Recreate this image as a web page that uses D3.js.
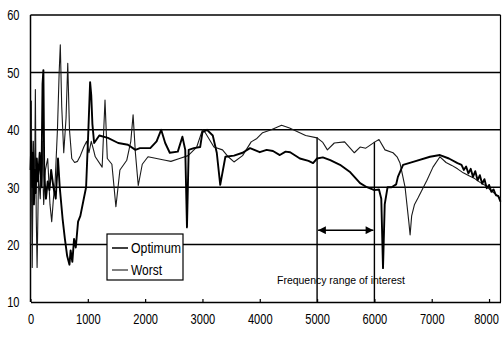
<!DOCTYPE html>
<html>
<head>
<meta charset="utf-8">
<script src="https://cdn.jsdelivr.net/npm/d3@7/dist/d3.min.js"></script>
<style>
  body { margin: 0; background: #fff; }
  svg { display: block; }
  text { font-family: "Liberation Sans", sans-serif; fill: #000; }
</style>
</head>
<body>
<div id="chart"></div>
<script>
// ---- data ----
const optFreq = [0,15,30,45,60,75,90,110,130,160,190,210,225,240,270,300,330,360,400,440,480,510,560,600,640,680,700,730,760,790,830,870,920,970,1010,1040,1060,1080,1110,1200,1350,1530,1700,1830,1910,2090,2200,2280,2350,2430,2570,2650,2700,2730,2760,2850,2960,3000,3080,3180,3250,3310,3400,3550,3700,3830,4000,4120,4230,4350,4450,4530,4700,4850,4930,5000,5100,5230,5400,5580,5750,5870,6000,6080,6120,6150,6180,6230,6300,6380,6410,6500,6675,6970,7144,7300,7450,7520,7560,7600,7640,7680,7720,7760,7800,7840,7880,7920,7960,8000,8040,8080,8120,8160,8200];
const optLevel = [33,38,30,36,27,33,29,35,31,36,30,48,50.4,32,28,31,29.5,33,30,28,35,30,24.5,21,18,16.5,19,17,21,19.5,24,25,27.5,30,40,48.3,46,41,37.7,39,38.6,37.7,37.4,36.5,36.8,36.8,38,40,37.7,36,36.2,38.8,36.5,23,36.5,36.8,37,39.6,40,39,36,30.4,35.3,35.5,36,36.8,36.1,36.5,36.3,35.6,36.2,36.1,35,34.6,34.2,35,35.2,34.7,33.9,32.6,30.7,30,29.5,29.6,28,15.9,27,30,30,30.5,31.8,33.9,34.4,35.3,35.6,35,34.2,33.9,33,33.6,32.4,33.2,31.8,32.8,31.2,32.1,30.6,31.4,29.8,30.4,29.2,29.6,28.6,28.5,27.5];

const worstFreq = [0,15,30,50,70,85,100,115,140,170,200,230,260,300,340,370,400,430,470,500,520,545,580,620,650,680,720,770,820,870,930,980,1020,1060,1100,1130,1250,1300,1340,1420,1490,1560,1680,1750,1790,1830,1880,1950,2050,2200,2350,2450,2600,2750,2900,3000,3050,3200,3350,3450,3550,3700,3850,3950,4050,4200,4380,4520,4650,4800,5000,5100,5180,5300,5480,5650,5750,5850,6010,6080,6185,6325,6395,6447,6535,6600,6623,6650,6700,6760,6917,7022,7144,7250,7350,7450,7550,7650,7750,7850,7950,8050,8150,8200];
const worstLevel = [20,45,16,38,28,47,25,16,32,28,38,27,33,35,27,24,28,31,40,50,54.8,44,36,42,51.6,40,35,34.3,34.5,35.5,37,38,36,38,36.5,35.3,33.5,45.2,35,34,26.6,33,34.7,38,42.6,36,30.3,34,35.3,35,34.7,34.5,35,35.5,37,40,39.5,37,36.5,35.3,34.4,35.5,37.9,38.5,39.5,40,40.8,40.3,39.7,39,38.6,37.8,36.5,37.7,37.9,36,37,36.8,37.9,38.3,36.5,36,35.3,34.2,30,24,21.7,25,27,28.1,31.2,33.5,35.3,34.3,33.8,33.2,32.5,32,31.5,30.8,30.2,29.3,28.5,28];

const xTicks = [0,1000,2000,3000,4000,5000,6000,7000,8000];
const yTicks = [10,20,30,40,50,60];
const rangeFreq = [5000, 6000];
const rangeTop = [38.7, 37.9];
const arrowLevel = 22.5;
const seriesNames = ["Optimum", "Worst"];
const annotation = "Frequency range of interest";

// ---- drawing ----
const W = 504, H = 337;
const narrow = 0.74; // the scanned labels are set in a condensed face
const svg = d3.select("#chart").append("svg")
  .attr("width", W).attr("height", H);

const x = d3.scaleLinear().domain([0, 8200]).range([30.5, 500.5]);
const y = d3.scaleLinear().domain([10, 60]).range([302, 15]);

// horizontal grid lines (also top border)
svg.append("g").selectAll("line")
  .data(yTicks.filter(d => d > 10))
  .join("line")
    .attr("x1", x(0)).attr("x2", x(8200))
    .attr("y1", d => y(d)).attr("y2", d => y(d))
    .attr("stroke", "#000").attr("stroke-width", 1.5);

// left / right frame
svg.append("line").attr("x1", x(0)).attr("x2", x(0)).attr("y1", y(60)).attr("y2", y(10))
  .attr("stroke", "#000").attr("stroke-width", 1.5);
svg.append("line").attr("x1", x(8200)).attr("x2", x(8200)).attr("y1", y(60)).attr("y2", y(10))
  .attr("stroke", "#000").attr("stroke-width", 1.2);

// x axis with small inward ticks
const xAxis = svg.append("g")
  .attr("transform", `translate(0,${y(10)})`)
  .call(d3.axisBottom(x).tickValues(xTicks).tickFormat(d3.format("d"))
    .tickSizeInner(-3).tickSizeOuter(0).tickPadding(11));
xAxis.select(".domain").attr("stroke", "#000").attr("stroke-width", 1.5);
xAxis.selectAll(".tick line").attr("stroke", "#000").attr("stroke-width", 1.2);
xAxis.selectAll("text")
  .attr("font-size", 15)
  .attr("font-family", null)
  .attr("transform", `scale(${narrow},1)`);
// nudge the last label left so it stays inside the window
xAxis.selectAll("text").filter(d => d === 8000).attr("x", -3 / narrow);

// y axis labels only
const yAxis = svg.append("g")
  .attr("transform", `translate(${x(0)},0)`)
  .call(d3.axisLeft(y).tickValues(yTicks).tickSize(0).tickPadding(11));
yAxis.select(".domain").remove();
yAxis.selectAll("text")
  .attr("font-size", 15)
  .attr("font-family", null)
  .attr("x", -11 / narrow)
  .attr("transform", `scale(${narrow},1)`);

// frequency range markers
svg.append("g").selectAll("line")
  .data(rangeFreq)
  .join("line")
    .attr("x1", d => x(d)).attr("x2", d => x(d))
    .attr("y1", (d, i) => y(rangeTop[i])).attr("y2", y(10))
    .attr("stroke", "#000").attr("stroke-width", 1.4);

const defs = svg.append("defs");
defs.append("marker")
  .attr("id", "arr").attr("viewBox", "0 0 10 10")
  .attr("refX", 10).attr("refY", 5)
  .attr("markerWidth", 7).attr("markerHeight", 6)
  .attr("orient", "auto-start-reverse")
  .append("path").attr("d", "M0,0L10,5L0,10z").attr("fill", "#000");

svg.append("line")
  .attr("x1", x(rangeFreq[0]) + 1).attr("x2", x(rangeFreq[1]) - 1)
  .attr("y1", y(arrowLevel)).attr("y2", y(arrowLevel))
  .attr("stroke", "#000").attr("stroke-width", 1.3)
  .attr("marker-start", "url(#arr)").attr("marker-end", "url(#arr)");

svg.append("text")
  .attr("x", 277).attr("y", y(13.2))
  .attr("font-size", 11)
  .attr("lengthAdjust", "spacingAndGlyphs")
  .attr("textLength", 128)
  .text(annotation);

// curves
const line = d3.line().x(d => x(d[0])).y(d => y(d[1]));
const worstData = worstFreq.map((f, i) => [f, worstLevel[i]]);
const optData = optFreq.map((f, i) => [f, optLevel[i]]);

svg.append("path").datum(worstData)
  .attr("d", line).attr("fill", "none")
  .attr("stroke", "#1a1a1a").attr("stroke-width", 1.1)
  .attr("stroke-linejoin", "round");

svg.append("path").datum(optData)
  .attr("d", line).attr("fill", "none")
  .attr("stroke", "#000").attr("stroke-width", 1.9)
  .attr("stroke-linejoin", "round");

// legend
const lg = svg.append("g").attr("transform", "translate(107,234)");
lg.append("rect").attr("width", 76).attr("height", 46)
  .attr("fill", "#fff").attr("stroke", "#000").attr("stroke-width", 1.2);
seriesNames.forEach((name, i) => {
  const yy = 14 + i * 22;
  lg.append("line").attr("x1", 5).attr("x2", 21).attr("y1", yy).attr("y2", yy)
    .attr("stroke", "#000").attr("stroke-width", i === 0 ? 1.5 : 1);
  lg.append("text").attr("x", 24).attr("y", yy).attr("dy", "0.35em")
    .attr("font-size", 15)
    .attr("lengthAdjust", "spacingAndGlyphs")
    .attr("textLength", i === 0 ? 50 : 31)
    .text(name);
});
</script>
</body>
</html>
